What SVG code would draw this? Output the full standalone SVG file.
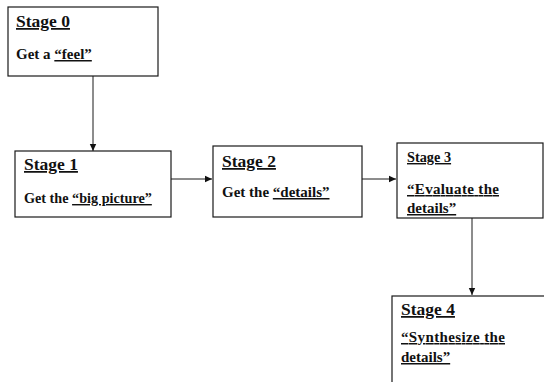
<svg xmlns="http://www.w3.org/2000/svg" width="544" height="382" viewBox="0 0 544 382">
<style>
  .box { fill: #ffffff; stroke: #1a1a1a; stroke-width: 1.2; }
  .conn { stroke: #1a1a1a; stroke-width: 1; fill: none; }
  text { font-family: "Liberation Serif", "Times New Roman", serif; font-weight: bold; fill: #111111; }
  .h { font-size: 17.5px; text-decoration: underline; }
  .b { font-size: 15px; }
  .u { text-decoration: underline; }
</style>
<defs>
  <marker id="arr" markerWidth="8" markerHeight="8" refX="7" refY="4" orient="auto" markerUnits="userSpaceOnUse">
    <path d="M0,0.8 L7,4 L0,7.2 Z" fill="#111111"/>
  </marker>
</defs>
<rect width="544" height="382" fill="#ffffff"/>
<g id="connectors">
  <line class="conn" x1="93" y1="76" x2="93" y2="151" marker-end="url(#arr)"/>
  <line class="conn" x1="171" y1="179" x2="212" y2="179" marker-end="url(#arr)"/>
  <line class="conn" x1="362" y1="179" x2="396" y2="179" marker-end="url(#arr)"/>
  <line class="conn" x1="472" y1="218" x2="472" y2="295" marker-end="url(#arr)"/>
</g>
<g id="stage0">
  <rect class="box" x="8" y="7" width="150" height="69"/>
  <text class="h" x="16" y="27">Stage 0</text>
  <text class="b" x="16" y="59">Get a <tspan class="u">“feel”</tspan></text>
</g>
<g id="stage1">
  <rect class="box" x="15" y="151" width="156" height="66"/>
  <text class="h" x="24" y="170">Stage 1</text>
  <text class="b" x="24" y="203" style="font-size:14.2px">Get the <tspan class="u">“big picture”</tspan></text>
</g>
<g id="stage2">
  <rect class="box" x="213" y="146" width="149" height="71"/>
  <text class="h" x="222" y="167">Stage 2</text>
  <text class="b" x="222" y="197">Get the <tspan class="u">“details”</tspan></text>
</g>
<g id="stage3">
  <rect class="box" x="397" y="143" width="146" height="75"/>
  <text class="h" x="407" y="162" style="font-size:14.3px">Stage 3</text>
  <text class="b u" x="407" y="194" textLength="92" lengthAdjust="spacing">“Evaluate the </text>
  <text class="b u" x="407" y="213">details”</text>
</g>
<g id="stage4">
  <rect class="box" x="392" y="296" width="170" height="100"/>
  <text class="h" x="401" y="315">Stage 4</text>
  <text class="b u" x="401" y="342" textLength="104" lengthAdjust="spacing">“Synthesize the </text>
  <text class="b u" x="401" y="362">details”</text>
</g>
</svg>
